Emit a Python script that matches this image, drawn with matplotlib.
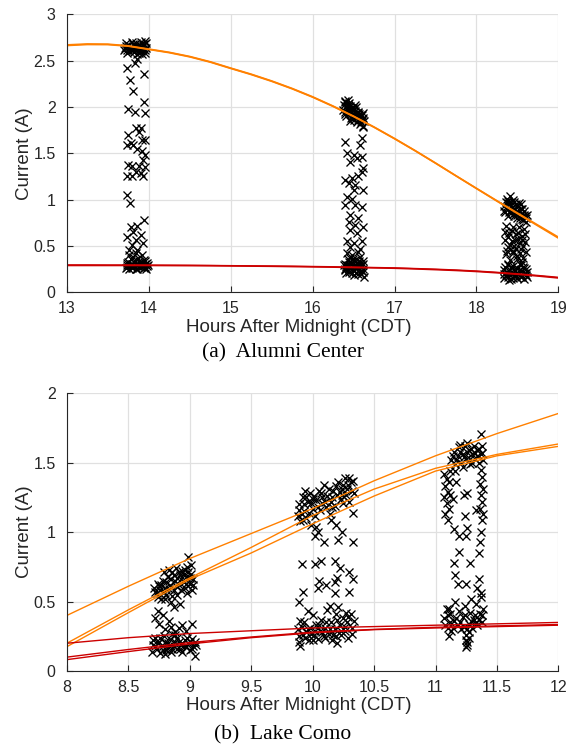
import matplotlib
matplotlib.use("Agg")
import matplotlib.pyplot as plt

plt.rcParams['font.family'] = ['Liberation Sans', 'DejaVu Sans']

# ---- (a) Alumni Center ----
a_hours = [13, 13.25, 13.5, 13.75, 14, 14.25, 14.5, 14.75, 15, 15.25, 15.5, 15.75, 16,
           16.25, 16.5, 16.75, 17, 17.25, 17.5, 17.75, 18, 18.25, 18.5, 18.75, 19]
a_orange1 = [2.670, 2.680, 2.678, 2.660, 2.625, 2.590, 2.545, 2.488, 2.420, 2.354, 2.281, 2.200,
             2.110, 2.010, 1.901, 1.784, 1.660, 1.530, 1.395, 1.257, 1.120, 0.984, 0.850, 0.717, 0.585]
a_orange2 = [2.663, 2.674, 2.673, 2.656, 2.621, 2.586, 2.541, 2.484, 2.416, 2.350, 2.277, 2.196,
             2.106, 2.006, 1.897, 1.781, 1.657, 1.528, 1.394, 1.257, 1.122, 0.988, 0.856, 0.725, 0.595]
a_red1 = [0.290, 0.290, 0.290, 0.290, 0.290, 0.289, 0.288, 0.287, 0.285, 0.283, 0.281, 0.278,
          0.275, 0.272, 0.268, 0.264, 0.260, 0.253, 0.245, 0.236, 0.225, 0.211, 0.195, 0.176, 0.155]
a_red2 = [0.296, 0.296, 0.295, 0.295, 0.294, 0.293, 0.292, 0.290, 0.288, 0.286, 0.284, 0.282,
          0.279, 0.276, 0.272, 0.268, 0.264, 0.257, 0.250, 0.241, 0.230, 0.216, 0.200, 0.182, 0.162]

a1_x = [13.71, 13.73, 13.75, 13.76, 13.78, 13.79, 13.81, 13.82, 13.84, 13.85, 13.87, 13.88,
        13.90, 13.91, 13.93, 13.94, 13.95, 13.96, 13.72, 13.80, 13.89, 13.92, 13.97, 13.86,
        13.73, 13.83, 13.86, 13.94, 13.77, 13.81, 13.94, 13.75, 13.83, 13.95, 13.84, 13.91,
        13.75, 13.88, 13.78, 13.81, 13.92, 13.96, 13.74, 13.86, 13.92, 13.95, 13.93, 13.75,
        13.80, 13.88, 13.96, 13.85, 13.90, 13.73, 13.80, 13.93, 13.74, 13.77, 13.94, 13.78,
        13.86, 13.81, 13.91, 13.74, 13.84, 13.80, 13.93, 13.76, 13.86,
        13.73, 13.74, 13.75, 13.77, 13.78, 13.79, 13.80, 13.82, 13.83, 13.84, 13.86, 13.87,
        13.88, 13.90, 13.91, 13.92, 13.94, 13.95, 13.96, 13.98, 13.97, 13.76, 13.85, 13.89, 13.81]
a1_y = [2.64, 2.62, 2.67, 2.60, 2.65, 2.62, 2.68, 2.59, 2.64, 2.61, 2.66, 2.62,
        2.60, 2.65, 2.63, 2.68, 2.58, 2.71, 2.66, 2.63, 2.67, 2.61, 2.64, 2.57,
        2.42, 2.47, 2.52, 2.36, 2.29, 2.17, 2.05, 1.98, 1.95, 1.94, 1.77, 1.77,
        1.70, 1.73, 1.61, 1.59, 1.64, 1.64, 1.59, 1.55, 1.53, 1.48, 1.43, 1.37,
        1.36, 1.36, 1.35, 1.30, 1.29, 1.25, 1.25, 1.25, 1.05, 0.96, 0.78, 0.71,
        0.72, 0.65, 0.62, 0.60, 0.56, 0.51, 0.53, 0.46, 0.46,
        0.30, 0.27, 0.33, 0.29, 0.36, 0.26, 0.31, 0.28, 0.34, 0.25, 0.30, 0.37,
        0.27, 0.32, 0.29, 0.40, 0.26, 0.31, 0.34, 0.28, 0.25, 0.40, 0.42, 0.33, 0.38]
a1_fill_x = [13.70, 13.72, 13.74, 13.77, 13.79, 13.83, 13.85, 13.88, 13.90, 13.93, 13.95, 13.97,
             13.74, 13.81, 13.87, 13.92,
             13.72, 13.74, 13.76, 13.78, 13.80, 13.82, 13.84, 13.86, 13.88, 13.90, 13.92, 13.94,
             13.96, 13.98, 13.79, 13.87, 13.93, 13.99]
a1_fill_y = [2.61, 2.69, 2.58, 2.63, 2.70, 2.66, 2.69, 2.58, 2.70, 2.67, 2.62, 2.69,
             2.65, 2.61, 2.63, 2.57,
             0.26, 0.32, 0.25, 0.31, 0.27, 0.33, 0.29, 0.25, 0.34, 0.27, 0.31, 0.35,
             0.27, 0.32, 0.30, 0.29, 0.28, 0.30]

a2_x = [16.38, 16.39, 16.40, 16.41, 16.42, 16.43, 16.44, 16.45, 16.46, 16.47, 16.48, 16.49,
        16.50, 16.51, 16.52, 16.53, 16.54, 16.55, 16.56, 16.57, 16.58, 16.59, 16.60, 16.61,
        16.62, 16.43, 16.52, 16.46, 16.62,
        16.40, 16.60, 16.58, 16.42, 16.50, 16.54, 16.60, 16.46, 16.62, 16.60, 16.40, 16.48,
        16.56, 16.44, 16.52, 16.50, 16.62, 16.42, 16.48, 16.40, 16.52, 16.60, 16.46, 16.56,
        16.44, 16.52, 16.62, 16.46, 16.54, 16.42, 16.50, 16.60, 16.46, 16.58,
        16.39, 16.40, 16.41, 16.43, 16.44, 16.45, 16.47, 16.48, 16.49, 16.50, 16.52, 16.53,
        16.54, 16.56, 16.57, 16.58, 16.59, 16.60, 16.61, 16.62, 16.63, 16.42, 16.51, 16.55, 16.46]
a2_y = [2.02, 1.95, 2.06, 1.90, 1.99, 2.03, 1.93, 1.97, 2.01, 1.88, 1.95, 1.99,
        1.91, 1.86, 1.96, 1.93, 1.84, 1.90, 1.95, 1.87, 1.82, 1.91, 1.86, 1.80,
        1.88, 2.08, 2.02, 1.85, 1.78,
        1.625, 1.66, 1.59, 1.50, 1.48, 1.445, 1.46, 1.41, 1.34, 1.30, 1.21, 1.23,
        1.25, 1.18, 1.16, 1.10, 1.10, 1.03, 1.01, 0.94, 0.94, 0.92, 0.83, 0.80,
        0.76, 0.73, 0.71, 0.67, 0.64, 0.55, 0.53, 0.55, 0.49, 0.47,
        0.25, 0.31, 0.21, 0.36, 0.27, 0.22, 0.32, 0.40, 0.24, 0.29, 0.35, 0.21,
        0.27, 0.31, 0.24, 0.38, 0.20, 0.29, 0.34, 0.25, 0.17, 0.42, 0.19, 0.43, 0.37]
a2_fill_x = [16.37, 16.39, 16.41, 16.43, 16.45, 16.47, 16.49, 16.51, 16.53, 16.55, 16.57, 16.59,
             16.61, 16.63, 16.40, 16.44, 16.48, 16.52, 16.56, 16.60,
             16.38, 16.40, 16.42, 16.44, 16.46, 16.48, 16.50, 16.52, 16.54, 16.56, 16.58, 16.60,
             16.62, 16.41, 16.45, 16.49, 16.53, 16.57, 16.61]
a2_fill_y = [1.97, 2.05, 2.01, 1.96, 2.04, 1.99, 1.92, 1.98, 2.00, 1.94, 1.92, 1.84,
             1.93, 1.85, 1.92, 2.00, 1.89, 1.89, 1.86, 1.91,
             0.29, 0.24, 0.30, 0.33, 0.26, 0.21, 0.34, 0.26, 0.32, 0.20, 0.28, 0.23,
             0.31, 0.27, 0.30, 0.36, 0.30, 0.34, 0.22]

a3_x = [18.34, 18.35, 18.36, 18.38, 18.39, 18.40, 18.41, 18.42, 18.43, 18.45, 18.46, 18.47,
        18.49, 18.50, 18.51, 18.53, 18.54, 18.55, 18.57, 18.58, 18.59, 18.61, 18.44, 18.37, 18.52,
        18.36, 18.44, 18.52, 18.58, 18.40, 18.48, 18.56, 18.35, 18.43, 18.51, 18.59, 18.38,
        18.46, 18.54, 18.60, 18.36, 18.44, 18.50, 18.57, 18.41, 18.48, 18.53,
        18.33, 18.34, 18.35, 18.37, 18.38, 18.39, 18.41, 18.42, 18.43, 18.45, 18.46, 18.47,
        18.49, 18.50, 18.51, 18.53, 18.54, 18.55, 18.57, 18.58, 18.59, 18.61, 18.62, 18.40, 18.56]
a3_y = [0.93, 0.87, 0.97, 0.90, 0.82, 0.95, 1.04, 0.88, 0.92, 0.85, 0.97, 0.90,
        0.83, 0.93, 0.87, 0.80, 0.90, 0.85, 0.78, 0.88, 0.82, 0.76, 1.00, 1.01, 0.96,
        0.72, 0.70, 0.71, 0.68, 0.64, 0.63, 0.61, 0.57, 0.55, 0.58, 0.54, 0.49,
        0.50, 0.47, 0.44, 0.41, 0.42, 0.39, 0.37, 0.35, 0.47, 0.53,
        0.20, 0.15, 0.27, 0.22, 0.17, 0.31, 0.24, 0.14, 0.20, 0.28, 0.18, 0.23,
        0.15, 0.26, 0.20, 0.31, 0.17, 0.23, 0.27, 0.14, 0.21, 0.25, 0.17, 0.13, 0.33]
a3_fill_x = [18.33, 18.36, 18.38, 18.40, 18.42, 18.44, 18.46, 18.48, 18.50, 18.52, 18.54, 18.56,
             18.58, 18.60, 18.62, 18.39, 18.47, 18.55,
             18.35, 18.39, 18.43, 18.47, 18.51, 18.55, 18.59, 18.37, 18.45, 18.53, 18.41, 18.49, 18.57,
             18.34, 18.36, 18.38, 18.40, 18.42, 18.44, 18.46, 18.48, 18.50, 18.52, 18.54, 18.56,
             18.58, 18.60, 18.62]
a3_fill_y = [0.88, 0.92, 0.96, 0.87, 0.98, 0.89, 0.82, 0.95, 0.80, 0.89, 0.95, 0.90,
             0.83, 0.80, 0.83, 0.99, 0.86, 0.79,
             0.65, 0.60, 0.66, 0.57, 0.64, 0.56, 0.63, 0.45, 0.45, 0.42, 0.51, 0.36, 0.50,
             0.24, 0.19, 0.29, 0.20, 0.27, 0.16, 0.25, 0.19, 0.15, 0.24, 0.29, 0.18,
             0.26, 0.19, 0.22]

# ---- (b) Lake Como ----
b_hours = [8, 8.5, 9, 9.5, 10, 10.5, 11, 11.5, 12]
b_orange1 = [0.40, 0.61, 0.81, 0.99, 1.17, 1.37, 1.55, 1.71, 1.855]
b_orange2 = [0.20, 0.44, 0.67, 0.89, 1.12, 1.31, 1.46, 1.56, 1.635]
b_orange3 = [0.175, 0.42, 0.66, 0.85, 1.06, 1.26, 1.44, 1.55, 1.618]
b_red1 = [0.20, 0.24, 0.27, 0.29, 0.31, 0.32, 0.33, 0.34, 0.35]
b_red2 = [0.10, 0.155, 0.205, 0.245, 0.28, 0.30, 0.315, 0.325, 0.335]
b_red3 = [0.082, 0.14, 0.195, 0.24, 0.275, 0.298, 0.31, 0.32, 0.33]

b1_x = [8.71, 8.73, 8.74, 8.76, 8.77, 8.78, 8.80, 8.81, 8.82, 8.84, 8.85, 8.86,
        8.87, 8.88, 8.89, 8.90, 8.91, 8.92, 8.93, 8.94, 8.95, 8.96, 8.97, 8.98,
        8.99, 9.00, 9.01, 9.02, 9.03, 8.83, 8.79, 8.98, 8.87, 8.92,
        8.72, 8.74, 8.75, 8.78, 8.80, 8.83, 8.85, 8.88, 8.91, 8.94, 8.97, 9.02,
        8.69, 8.70, 8.72, 8.73, 8.75, 8.76, 8.78, 8.79, 8.81, 8.82, 8.84, 8.85,
        8.87, 8.88, 8.90, 8.91, 8.93, 8.94, 8.96, 8.97, 8.99, 9.00, 9.02, 9.03,
        9.04, 9.05, 8.86, 8.80]
b1_y = [0.60, 0.56, 0.63, 0.58, 0.52, 0.65, 0.60, 0.55, 0.68, 0.62, 0.50, 0.71,
        0.58, 0.65, 0.74, 0.55, 0.62, 0.69, 0.58, 0.72, 0.64, 0.60, 0.68, 0.75,
        0.82, 0.63, 0.70, 0.58, 0.66, 0.73, 0.71, 0.56, 0.46, 0.48,
        0.38, 0.43, 0.34, 0.40, 0.30, 0.36, 0.32, 0.28, 0.31, 0.33, 0.29, 0.34,
        0.14, 0.19, 0.24, 0.16, 0.21, 0.13, 0.18, 0.25, 0.15, 0.20, 0.23, 0.14,
        0.18, 0.26, 0.16, 0.21, 0.19, 0.14, 0.22, 0.17, 0.20, 0.15, 0.23, 0.18,
        0.11, 0.19, 0.27, 0.12]
b1_fill_x = [8.72, 8.75, 8.77, 8.79, 8.81, 8.83, 8.85, 8.87, 8.89, 8.91, 8.93, 8.95,
             8.97, 8.99, 9.01, 9.03, 8.74, 8.80, 8.86, 8.90, 8.96, 9.00,
             8.70, 8.72, 8.74, 8.76, 8.78, 8.80, 8.82, 8.84, 8.86, 8.88, 8.90, 8.92,
             8.94, 8.96, 8.98, 9.00, 9.02, 9.04]
b1_fill_y = [0.57, 0.61, 0.62, 0.57, 0.64, 0.59, 0.66, 0.69, 0.61, 0.71, 0.66, 0.70,
             0.63, 0.71, 0.76, 0.62, 0.53, 0.52, 0.54, 0.67, 0.73, 0.67,
             0.22, 0.18, 0.20, 0.24, 0.15, 0.21, 0.17, 0.19, 0.16, 0.21, 0.24, 0.16,
             0.20, 0.18, 0.24, 0.21, 0.16, 0.21]

b2_x = [9.88, 9.89, 9.90, 9.92, 9.93, 9.95, 9.96, 9.98, 9.99, 10.00, 10.02, 10.03,
        10.05, 10.06, 10.08, 10.09, 10.11, 10.12, 10.14, 10.15, 10.17, 10.18, 10.20, 10.21,
        10.23, 10.24, 10.26, 10.27, 10.29, 10.30, 10.32, 10.33, 10.25, 9.94,
        10.02, 10.04, 10.09, 10.15, 10.19, 10.24, 10.21, 10.33, 10.33, 10.03,
        9.91, 10.02, 10.07, 10.18, 10.22, 10.30, 10.05, 10.20, 10.33, 10.11, 10.18, 9.92,
        9.89, 10.04, 10.18, 10.30,
        9.88, 9.89, 9.90, 9.92, 9.93, 9.95, 9.97, 9.98, 10.00, 10.01, 10.03, 10.04,
        10.06, 10.07, 10.09, 10.10, 10.12, 10.13, 10.15, 10.16, 10.18, 10.19, 10.20, 10.22,
        10.23, 10.25, 10.26, 10.28, 10.29, 10.31, 10.32, 10.34, 10.14, 10.21, 9.96]
b2_y = [1.12, 1.20, 1.08, 1.25, 1.15, 1.10, 1.22, 1.28, 1.05, 1.17, 1.12, 1.23,
        1.30, 1.16, 1.21, 1.34, 1.18, 1.26, 1.13, 1.22, 1.30, 1.19, 1.27, 1.36,
        1.24, 1.31, 1.39, 1.27, 1.34, 1.22, 1.30, 1.37, 1.21, 1.30,
        0.97, 1.00, 0.93, 1.09, 1.05, 1.00, 0.94, 0.93, 1.14, 1.04,
        0.77, 0.77, 0.79, 0.795, 0.74, 0.715, 0.645, 0.67, 0.66, 0.62, 0.64, 0.57,
        0.50, 0.60, 0.56, 0.57,
        0.30, 0.21, 0.18, 0.26, 0.35, 0.28, 0.22, 0.31, 0.40, 0.26, 0.33, 0.23,
        0.29, 0.37, 0.25, 0.31, 0.44, 0.27, 0.35, 0.22, 0.30, 0.41, 0.20, 0.33,
        0.26, 0.38, 0.29, 0.35, 0.24, 0.41, 0.31, 0.36, 0.47, 0.46, 0.43]
b2_fill_x = [9.89, 9.91, 9.93, 9.95, 9.97, 9.99, 10.01, 10.04, 10.07, 10.10, 10.13, 10.16,
             10.19, 10.22, 10.25, 10.28, 10.31, 10.34, 9.92, 10.00, 10.08, 10.16, 10.24, 10.30,
             9.89, 9.91, 9.94, 9.96, 9.99, 10.02, 10.05, 10.08, 10.11, 10.14, 10.17, 10.20,
             10.23, 10.26, 10.29, 10.32, 9.90, 10.00, 10.10, 10.19, 10.27]
b2_fill_y = [1.16, 1.13, 1.20, 1.25, 1.14, 1.21, 1.26, 1.18, 1.28, 1.22, 1.31, 1.25,
             1.33, 1.29, 1.34, 1.31, 1.36, 1.28, 1.09, 1.24, 1.25, 1.18, 1.27, 1.39,
             0.25, 0.32, 0.24, 0.30, 0.27, 0.29, 0.33, 0.28, 0.35, 0.30, 0.26, 0.37,
             0.29, 0.32, 0.39, 0.27, 0.36, 0.22, 0.24, 0.25, 0.42]

b3_x = [11.13, 11.15, 11.16, 11.18, 11.19, 11.21, 11.22, 11.24, 11.25, 11.27, 11.28, 11.30,
        11.31, 11.32, 11.34, 11.35, 11.37, 11.38, 11.39, 11.37, 11.26,
        11.07, 11.09, 11.08, 11.10, 11.07, 11.09, 11.11, 11.08, 11.10, 11.12, 11.11, 11.12,
        11.37, 11.38, 11.36, 11.39, 11.37, 11.38, 11.36, 11.39, 11.38,
        11.17, 11.23, 11.26, 11.14, 11.24, 11.33, 11.15, 11.19, 11.26, 11.25, 11.37, 11.36,
        11.19, 11.35, 11.15, 11.28, 11.16, 11.25, 11.35, 11.18, 11.34, 11.37,
        11.07, 11.09, 11.10, 11.12, 11.13, 11.15, 11.16, 11.18, 11.19, 11.21, 11.22, 11.24,
        11.25, 11.26, 11.27, 11.25, 11.28, 11.30, 11.31, 11.33, 11.34, 11.36, 11.37, 11.38,
        11.39, 11.11, 11.27, 11.29]
b3_y = [1.52, 1.58, 1.49, 1.55, 1.61, 1.50, 1.56, 1.62, 1.53, 1.59, 1.49, 1.56,
        1.62, 1.53, 1.59, 1.50, 1.56, 1.62, 1.52, 1.71, 1.64,
        1.42, 1.38, 1.33, 1.29, 1.25, 1.21, 1.17, 1.13, 1.09, 1.44, 1.36, 1.27,
        1.45, 1.40, 1.35, 1.31, 1.27, 1.22, 1.17, 1.13, 1.09,
        1.36, 1.27, 1.28, 1.24, 1.12, 1.16, 1.02, 0.97, 1.03, 0.97, 1.00, 0.93,
        0.86, 0.85, 0.78, 0.78, 0.69, 0.63, 0.66, 0.63, 0.60, 0.56,
        0.38, 0.45, 0.31, 0.41, 0.29, 0.36, 0.50, 0.33, 0.43, 0.30, 0.39, 0.47,
        0.26, 0.21, 0.34, 0.17, 0.42, 0.31, 0.37, 0.48, 0.33, 0.41, 0.53, 0.35,
        0.45, 0.25, 0.28, 0.52]
b3_fill_x = [11.14, 11.17, 11.20, 11.23, 11.26, 11.29, 11.32, 11.35, 11.38, 11.16, 11.22, 11.28,
             11.34, 11.20, 11.30,
             11.08, 11.10, 11.12, 11.14, 11.17, 11.20, 11.23, 11.24, 11.26, 11.27, 11.29, 11.32,
             11.35, 11.38, 11.11, 11.33, 11.25, 11.26]
b3_fill_y = [1.55, 1.52, 1.58, 1.54, 1.58, 1.60, 1.57, 1.60, 1.57, 1.44, 1.47, 1.53,
             1.55, 1.63, 1.50,
             0.33, 0.40, 0.35, 0.31, 0.38, 0.35, 0.32, 0.40, 0.30, 0.24, 0.36, 0.40,
             0.37, 0.40, 0.45, 0.35, 0.22, 0.19]

ORANGE = '#ff8000'
RED = '#cc0000'


def style(ax, xlim, ylim, xticks, yticks):
    ax.set_xlim(xlim)
    ax.set_ylim(ylim)
    ax.set_xticks(xticks)
    ax.set_yticks(yticks)
    ax.set_xticklabels([('%g' % t) for t in xticks])
    ax.set_yticklabels([('%g' % t) for t in yticks])
    ax.grid(True, color='#e0e0e0', linewidth=0.9)
    ax.set_axisbelow(True)
    for s in ['top', 'right']:
        ax.spines[s].set_visible(False)
    for s in ['left', 'bottom']:
        ax.spines[s].set_color('#262626')
        ax.spines[s].set_linewidth(0.8)
    ax.tick_params(direction='in', length=4, width=0.8, colors='#262626', labelsize=11.5)
    ax.tick_params(axis='x', pad=6.5)
    ax.tick_params(axis='y', pad=8)
    ax.set_xlabel('Hours After Midnight (CDT)', fontsize=13.5, color='#262626')
    ax.set_ylabel('Current (A)', fontsize=13.5, color='#262626', labelpad=0)
    ax.xaxis.set_label_coords(0.472, -0.095)


fig = plt.figure(figsize=(5.66, 7.49), dpi=100)

mk = dict(linestyle='none', marker='x', color='black', markersize=6, markeredgewidth=0.95)

ax1 = fig.add_axes([0.118, 0.6097, 0.8686, 0.3712])
for xs, ys in [(a1_x, a1_y), (a1_fill_x, a1_fill_y), (a2_x, a2_y), (a2_fill_x, a2_fill_y),
               (a3_x, a3_y), (a3_fill_x, a3_fill_y)]:
    ax1.plot(xs, ys, **mk)
ax1.plot(a_hours, a_orange1, color=ORANGE, linewidth=1.2)
ax1.plot(a_hours, a_orange2, color=ORANGE, linewidth=1.2)
ax1.plot(a_hours, a_red1, color=RED, linewidth=1.2)
ax1.plot(a_hours, a_red2, color=RED, linewidth=1.0)
style(ax1, (13, 19), (0, 3), [13, 14, 15, 16, 17, 18, 19], [0, 0.5, 1, 1.5, 2, 2.5, 3])

ax2 = fig.add_axes([0.118, 0.1041, 0.8686, 0.3708])
for xs, ys in [(b1_x, b1_y), (b1_fill_x, b1_fill_y), (b2_x, b2_y), (b2_fill_x, b2_fill_y),
               (b3_x, b3_y), (b3_fill_x, b3_fill_y)]:
    ax2.plot(xs, ys, **mk)
for ys in [b_orange1, b_orange2, b_orange3]:
    ax2.plot(b_hours, ys, color=ORANGE, linewidth=1.0)
for ys in [b_red1, b_red2, b_red3]:
    ax2.plot(b_hours, ys, color=RED, linewidth=1.0)
style(ax2, (8, 12), (0, 2), [8, 8.5, 9, 9.5, 10, 10.5, 11, 11.5, 12], [0, 0.5, 1, 1.5, 2])

fig.text(0.5, 1 - 353 / 749, '(a)  Alumni Center', ha='center', va='center',
         fontsize=15.5, family='Liberation Serif')
fig.text(0.5, 1 - 735 / 749, '(b)  Lake Como', ha='center', va='center',
         fontsize=15.5, family='Liberation Serif')

fig.savefig('out.png', dpi=100)
